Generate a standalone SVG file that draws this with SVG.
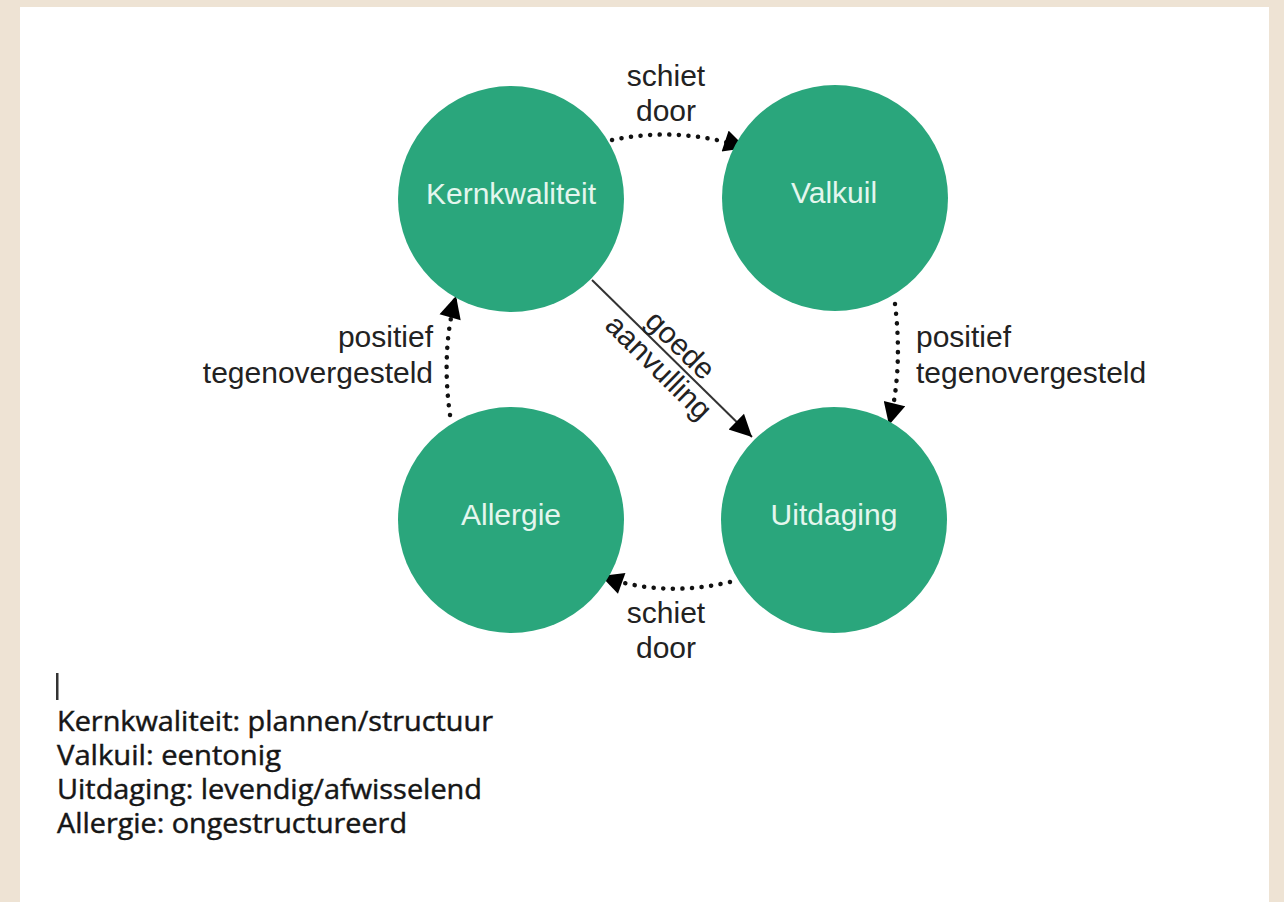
<svg xmlns="http://www.w3.org/2000/svg" width="1284" height="902" viewBox="0 0 1284 902">
  <style>
    .node { fill: #2aa67c; }
    .nlabel { font-family: "Liberation Sans", Arial, sans-serif; font-size: 30px; fill: #e4f6ee; text-anchor: middle; }
    .elabel { font-family: "Liberation Sans", Arial, sans-serif; font-size: 30px; fill: #222; }
    .dotted { fill: none; stroke: #111; stroke-width: 4.5; stroke-linecap: round; stroke-dasharray: 0.1 9.5; }
    .solid { fill: none; stroke: #333; stroke-width: 2; }
    .legend { font-family: "Open Sans", "Noto Sans", sans-serif; font-size: 27px; fill: #161616; stroke: #161616; stroke-width: 0.45px; }
  </style>
  <defs>
    <marker id="arrow" viewBox="0 0 10 10" refX="10" refY="5" markerUnits="userSpaceOnUse" markerWidth="24" markerHeight="22" orient="auto">
      <path d="M0,0 L10,5 L0,10 z" fill="#000"/>
    </marker>
  </defs>

  <rect x="0" y="0" width="1284" height="902" fill="#eee3d4"/>
  <rect x="20" y="7" width="1249" height="895" fill="#ffffff"/>

  <g id="connectors">
    <path class="dotted" d="M 612 140 Q 680 126 746 148" marker-end="url(#arrow)"/>
    <path class="dotted" d="M 895 304 Q 903 370 889 425" marker-end="url(#arrow)"/>
    <path class="dotted" d="M 730 582 Q 662 598 601 576" marker-end="url(#arrow)"/>
    <path class="dotted" d="M 450 415 Q 441 350 456 296" marker-end="url(#arrow)"/>
    <path class="solid" d="M 592 280 L 752 437" marker-end="url(#arrow)"/>
    <text class="elabel" x="666" y="86" text-anchor="middle">schiet</text>
    <text class="elabel" x="666" y="121" text-anchor="middle">door</text>
    <text class="elabel" x="666" y="623" text-anchor="middle">schiet</text>
    <text class="elabel" x="666" y="658" text-anchor="middle">door</text>
    <text class="elabel" x="433" y="347" text-anchor="end">positief</text>
    <text class="elabel" x="433" y="383" text-anchor="end">tegenovergesteld</text>
    <text class="elabel" x="916" y="347">positief</text>
    <text class="elabel" x="916" y="383">tegenovergesteld</text>
    <g transform="translate(672,358) rotate(44.5)">
      <text class="elabel" x="-3" y="-5" text-anchor="middle">goede</text>
      <text class="elabel" x="-3" y="26" text-anchor="middle">aanvulling</text>
    </g>
  </g>

  <g id="node-kernkwaliteit">
    <circle class="node" cx="511" cy="199" r="113"/>
    <text class="nlabel" x="511" y="204">Kernkwaliteit</text>
  </g>
  <g id="node-valkuil">
    <circle class="node" cx="835" cy="198" r="113"/>
    <text class="nlabel" x="834" y="203">Valkuil</text>
  </g>
  <g id="node-allergie">
    <circle class="node" cx="511" cy="520" r="113"/>
    <text class="nlabel" x="511" y="525">Allergie</text>
  </g>
  <g id="node-uitdaging">
    <circle class="node" cx="834" cy="520" r="113"/>
    <text class="nlabel" x="834" y="525">Uitdaging</text>
  </g>

  <g id="legend">
    <rect x="56" y="673" width="2.5" height="27" fill="#333"/>
    <text class="legend" x="57" y="731" textLength="436" lengthAdjust="spacingAndGlyphs">Kernkwaliteit: plannen/structuur</text>
    <text class="legend" x="57" y="765" textLength="224" lengthAdjust="spacingAndGlyphs">Valkuil: eentonig</text>
    <text class="legend" x="57" y="799" textLength="425" lengthAdjust="spacingAndGlyphs">Uitdaging: levendig/afwisselend</text>
    <text class="legend" x="57" y="833" textLength="350" lengthAdjust="spacingAndGlyphs">Allergie: ongestructureerd</text>
  </g>
</svg>
